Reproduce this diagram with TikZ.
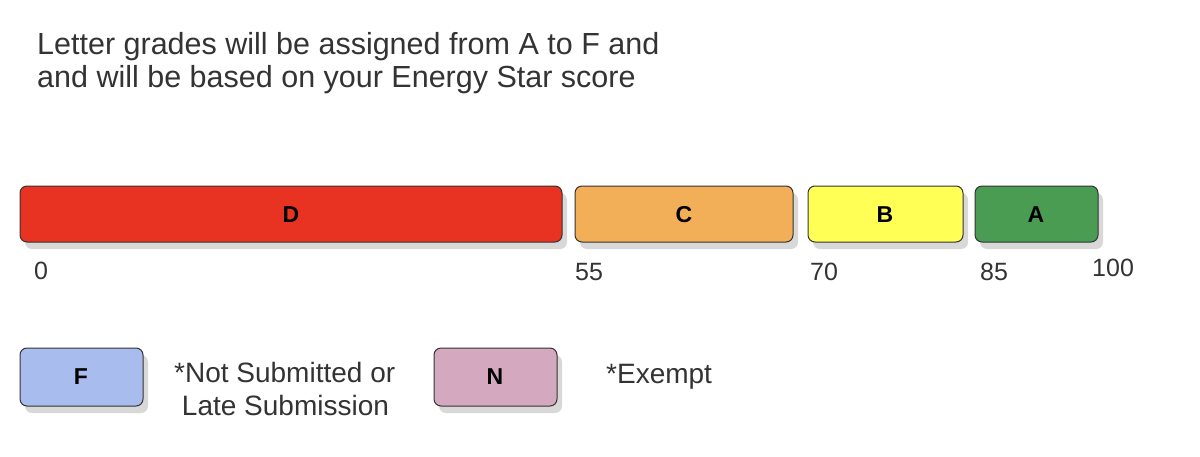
\documentclass[tikz,border=0pt]{standalone}
\usepackage{fontspec}
\setmainfont{Liberation Sans}
\usetikzlibrary{shadows}
\definecolor{cD}{HTML}{E83323}
\definecolor{cC}{HTML}{F2AF57}
\definecolor{cB}{HTML}{FFFF55}
\definecolor{cA}{HTML}{4A9C52}
\definecolor{cF}{HTML}{A8BDEE}
\definecolor{cN}{HTML}{D4A9C0}
\definecolor{tx}{HTML}{333333}
\begin{document}
\begin{tikzpicture}[x=1pt,y=-1pt,
  bar/.style={draw=black!80,line width=1pt,rounded corners=7pt,
    drop shadow={shadow xshift=5pt,shadow yshift=-7pt,opacity=0.25,fill=black!60}},
  lab/.style={font=\fontsize{23}{23}\selectfont\bfseries},
  num/.style={font=\fontsize{25}{25}\selectfont,text=tx,anchor=west},
  txt/.style={font=\fontsize{28}{33}\selectfont,text=tx,align=left}]
\useasboundingbox[fill=white] (0,0) rectangle (1200,456);
\node[txt,font=\fontsize{30.5}{33}\selectfont,anchor=north west,inner sep=0pt] (title) at (37,32) {Letter grades will be assigned from A to F and\\and will be based on your Energy Star score};
\path[bar,fill=cD] (20,186) rectangle (562,242);
\path[bar,fill=cC] (575,186) rectangle (793,242);
\path[bar,fill=cB] (808,186) rectangle (963,242);
\path[bar,fill=cA] (975,186) rectangle (1098,242);
\path[bar,fill=cF] (20,348) rectangle (143,406);
\path[bar,fill=cN] (434,348) rectangle (557,406);
\node[lab] (D) at (291,215) {D};
\node[lab] (C) at (684,215) {C};
\node[lab] (B) at (885,215) {B};
\node[lab] (A) at (1036,215) {A};
\node[lab] (F) at (81,377) {F};
\node[lab] (N) at (495,377) {N};
\node[num,inner sep=0pt] (n0) at (34,271) {0};
\node[num,inner sep=0pt] (n55) at (575,272) {55};
\node[num,inner sep=0pt] (n70) at (810,272) {70};
\node[num,inner sep=0pt] (n85) at (980,272) {85};
\node[num,inner sep=0pt] (n100) at (1092,268) {100};
\node[txt,anchor=north west,inner sep=0pt] (ns) at (174,362) {*Not Submitted or\\\ Late Submission};
\node[txt,anchor=west,inner sep=0pt] (ex) at (606,377) {*Exempt};
\end{tikzpicture}
\end{document}
